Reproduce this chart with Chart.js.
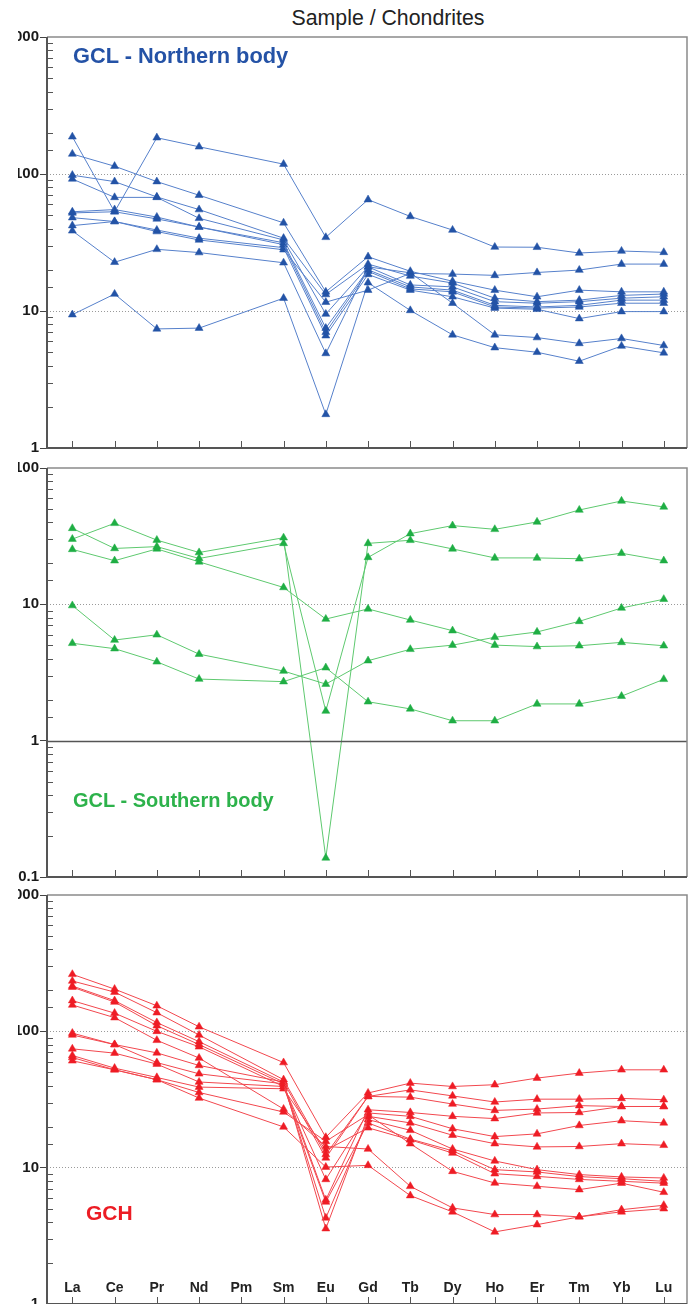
<!DOCTYPE html>
<html>
<head>
<meta charset="utf-8">
<title>Sample / Chondrites</title>
<script src="https://cdn.jsdelivr.net/npm/chart.js@4.4.1/dist/chart.umd.min.js"></script>
<style>
html, body { margin: 0; padding: 0; background: #fff; overflow: hidden; }
#page { position: relative; width: 696px; height: 1304px; font-family: 'Liberation Sans', Arial, sans-serif; }
canvas { position: absolute; left: 18px; }
.lbl { position: absolute; white-space: nowrap; line-height: 1; font-weight: bold; }
</style>
</head>
<body>
<div id="page">
  <div class="lbl" style="left:388px; top:8px; transform:translateX(-50%); font-size:21.3px; font-weight:normal; color:#222;">Sample / Chondrites</div>
  <canvas id="north" width="678" height="431" style="top:27px"></canvas>
  <canvas id="south" width="678" height="429" style="top:458px"></canvas>
  <canvas id="gch" width="678" height="429" style="top:885px"></canvas>
  <div class="lbl" style="left:73px; top:45px; font-size:21.8px; color:#2452a6;">GCL - Northern body</div>
  <div class="lbl" style="left:73px; top:790px; font-size:20px; color:#2db24b;">GCL - Southern body</div>
  <div class="lbl" style="left:86px; top:1202px; font-size:21px; color:#ec1c24;">GCH</div>
</div>
<script>
// REE order (Pm has no data)
const ELEMENTS = ['La', 'Ce', 'Pr', 'Nd', 'Pm', 'Sm', 'Eu', 'Gd', 'Tb', 'Dy', 'Ho', 'Er', 'Tm', 'Yb', 'Lu'];

// y tick labels per panel
const Y_LABELS_NORTH = ['1', '10', '100', '1000'];
const Y_LABELS_SOUTH = ['0.1', '1', '10', '100'];
const Y_LABELS_GCH = ['1', '10', '100', '1000'];

// GCL - Northern body (sample / chondrite)
const north = [
    [187, 53, 184, 158, null, 118, 34.5, 65, 49, 39, 29.3, 29.2, 26.5, 27.4, 26.8],
    [140, 114, 88, 70, null, 44, 13.8, 24.9, 19.5, 16.5, 14.2, 12.7, 14.2, 13.8, 13.8],
    [98, 88, 68, 55, null, 34, 13.2, 22, 18, 16, 12.4, 11.7, 12, 13, 13.3],
    [92, 67.5, 67.5, 47.5, null, 33, 9.5, 21, 15.5, 15, 11.7, 11.4, 11.7, 12.4, 12.7],
    [53, 55, 48.5, 41, null, 31.5, 7.5, 20, 15, 14.2, 11, 10.7, 11, 12, 12],
    [52, 53, 47, 41, null, 30.5, 7, 19.5, 14.5, 13.8, 10.7, 10.5, 10.7, 11.4, 11.4],
    [48, 45, 39, 34, null, 29, 6.6, 18.5, 14.2, 12.7, 10.5, 10.3, 8.8, 9.9, 9.9],
    [42, 45, 38, 33, null, 28, 11.6, 14.2, 18.8, 18.6, 18.2, 19.1, 19.9, 22, 22],
    [38.5, 22.7, 28.2, 26.7, null, 22.5, 4.9, 21, 19, 11.4, 6.7, 6.4, 5.8, 6.3, 5.6],
    [9.4, 13.3, 7.4, 7.5, null, 12.4, 1.76, 16.1, 10.1, 6.7, 5.4, 5.0, 4.3, 5.55, 4.95]
];

// GCL - Southern body
const south = [
    [36.1, 25.7, 26.5, 21.7, null, 28.0, 1.65, 22.1, 33, 37.8, 35.5, 40.2, 49.2, 57.3, 51.8],
    [30.1, 39.3, 29.6, 24.0, null, 30.8, 0.138, 28.0, 29.5, 25.5, 21.9, 21.9, 21.6, 23.7, 20.9],
    [25.3, 20.9, 25.5, 20.5, null, 13.3, 7.8, 9.25, 7.67, 6.41, 5.02, 4.9, 4.97, 5.26, 4.97],
    [9.8, 5.47, 5.98, 4.31, null, 3.24, 2.6, 3.86, 4.68, 5.02, 5.73, 6.27, 7.5, 9.4, 10.9],
    [5.18, 4.73, 3.79, 2.83, null, 2.71, 3.43, 1.93, 1.71, 1.4, 1.4, 1.86, 1.86, 2.12, 2.82]
];

// GCH
const gch = [
    [262, 204, 154, 108, null, 59, 16.7, 35.3, 41.7, 39.4, 40.6, 45.4, 49.4, 52.2, 52.2],
    [234, 194, 137, 94, null, 44.2, 12.5, 33.3, 37.2, 33.6, 30.3, 31.8, 31.8, 32.2, 31.5],
    [215, 168, 116, 84, null, 42.5, 11.8, 33.3, 32.9, 29.3, 26.3, 26.9, 28.5, 28.1, 28.1],
    [211, 164, 110, 80, null, 41.2, 5.8, 26.6, 25.4, 23.8, 22.9, 25.2, 25.4, 28.1, 28.1],
    [168, 136, 100, 77, null, 39.4, 8.2, 25.2, 23.8, 19.3, 16.9, 17.7, 20.4, 22.1, 21.3],
    [156, 126, 86, 63.7, null, 26.9, 14.3, 13.7, 7.3, 5.07, 4.53, 4.53, 4.36, 4.92, 5.3],
    [97, 80, 69.5, 56.2, null, 42.5, 3.57, 23.8, 21.3, 17.3, 15.0, 14.2, 14.3, 15.0, 14.6],
    [94, 80, 59, 48.8, null, 41.2, 4.28, 22.5, 18.8, 13.7, 11.2, 9.67, 8.9, 8.55, 8.4],
    [74.4, 69.2, 57.5, 42.5, null, 39.4, 5.6, 21.3, 16.2, 13.3, 9.67, 9.3, 8.6, 8.3, 7.94],
    [66.5, 53.7, 45.9, 39, null, 37.9, 13.4, 19.6, 16.0, 12.8, 9.03, 8.63, 8.2, 7.94, 7.7],
    [64.3, 52.2, 44.2, 35.6, null, 25.6, 15.6, 24.5, 15.0, 9.4, 7.72, 7.3, 6.9, 7.7, 6.6],
    [60.8, 52.2, 44.2, 32.4, null, 19.9, 10.1, 10.4, 6.24, 4.74, 3.38, 3.82, 4.36, 4.74, 5.0]
];

const FONT = "'Liberation Sans', Arial, sans-serif";
const CLEAR = 'rgba(0,0,0,0)';

function isDecade(v) {
    const l = Math.log10(v);
    return Math.abs(l - Math.round(l)) < 1e-6;
}

function labelFor(labels, v) {
    for (const s of labels) {
        if (Math.abs(Math.log10(Number(s)) - Math.log10(v)) < 1e-6) return s;
    }
    return '';
}

// box, inward x ticks, inner minor y ticks, optional solid reference line
const framePlugin = {
    id: 'frame',
    afterDraw(chart, args, opts) {
        const ctx = chart.ctx;
        const a = chart.chartArea;
        const xs = chart.scales.x;
        const ys = chart.scales.y;
        ctx.save();
        ctx.lineWidth = 1;
        ctx.strokeStyle = '#555';
        ctx.beginPath();
        ys.ticks.forEach(t => {
            if (isDecade(t.value)) return;
            const py = Math.round(ys.getPixelForValue(t.value)) + 0.5;
            ctx.moveTo(a.left, py);
            ctx.lineTo(a.left + 6, py);
        });
        xs.ticks.forEach(t => {
            const px = Math.round(xs.getPixelForValue(t.value)) + 0.5;
            ctx.moveTo(px, a.bottom);
            ctx.lineTo(px, a.bottom - 7);
        });
        ctx.stroke();

        if (opts.solidAt) {
            const py = Math.round(ys.getPixelForValue(opts.solidAt)) + 0.5;
            ctx.strokeStyle = '#555';
            ctx.lineWidth = 1.5;
            ctx.beginPath();
            ctx.moveTo(a.left, py);
            ctx.lineTo(a.right, py);
            ctx.stroke();
        }

        ctx.strokeStyle = '#8a8a8a';
        ctx.lineWidth = 1.5;
        ctx.beginPath();
        ctx.moveTo(a.left, a.top);
        ctx.lineTo(a.right, a.top);
        ctx.lineTo(a.right, a.bottom);
        ctx.stroke();

        ctx.strokeStyle = '#555';
        ctx.lineWidth = 2;
        ctx.beginPath();
        ctx.moveTo(a.left, a.top);
        ctx.lineTo(a.left, a.bottom);
        ctx.lineTo(a.right, a.bottom);
        ctx.stroke();
        ctx.restore();
    }
};

function makePanel(id, rows, yMin, yMax, yLabels, markerColor, lineColor, showNames, solidAt) {
    const datasets = rows.map(r => ({
        data: r.map((v, i) => ({ x: i, y: v })),
        borderColor: lineColor,
        borderWidth: 1,
        pointStyle: 'triangle',
        pointRadius: 4.6,
        pointBackgroundColor: markerColor,
        pointBorderColor: markerColor,
        pointBorderWidth: 0.5,
        spanGaps: true,
        tension: 0
    }));

    return new Chart(document.getElementById(id), {
        type: 'line',
        data: { datasets: datasets },
        options: {
            responsive: false,
            animation: false,
            devicePixelRatio: 1,
            events: [],
            layout: { padding: { left: 0, right: 9, top: 10, bottom: 10 } },
            plugins: {
                legend: { display: false },
                tooltip: { enabled: false },
                frame: { solidAt: solidAt }
            },
            scales: {
                x: {
                    type: 'linear',
                    min: -0.6,
                    max: 14.55,
                    border: { display: false },
                    grid: { display: false },
                    afterBuildTicks: s => { s.ticks = ELEMENTS.map((e, i) => ({ value: i })); },
                    afterFit: s => { s.height = 0; s.paddingLeft = 0; s.paddingRight = 0; },
                    ticks: {
                        display: showNames,
                        mirror: true,
                        autoSkip: false,
                        maxRotation: 0,
                        padding: 7.6,
                        color: '#222',
                        font: { family: FONT, size: 14, weight: 'bold' },
                        callback: v => ELEMENTS[v]
                    }
                },
                y: {
                    type: 'logarithmic',
                    min: yMin,
                    max: yMax,
                    border: { display: false, dash: [1, 2] },
                    grid: {
                        lineWidth: 1,
                        color: c => (c.tick && isDecade(c.tick.value) && c.tick.value > yMin * 1.01 &&
                            c.tick.value < yMax * 0.99 && c.tick.value !== solidAt) ? '#9a9a9a' : CLEAR,
                        drawTicks: true,
                        tickLength: 7,
                        tickWidth: 1,
                        tickColor: c => (c.tick && isDecade(c.tick.value)) ? '#444' : CLEAR
                    },
                    afterFit: s => { s.width = 29; s.paddingTop = 0; s.paddingBottom = 0; },
                    ticks: {
                        autoSkip: false,
                        padding: 1,
                        color: '#1a1a1a',
                        font: { family: FONT, size: 15, weight: 'bold' },
                        callback: v => labelFor(yLabels, v)
                    }
                }
            }
        },
        plugins: [framePlugin]
    });
}

makePanel('north', north, 1, 1000, Y_LABELS_NORTH, '#2353a6', '#5680cb', false, null);
makePanel('south', south, 0.1, 100, Y_LABELS_SOUTH, '#1fae44', '#5ec96f', false, 1);
makePanel('gch', gch, 1, 1000, Y_LABELS_GCH, '#ee1c25', '#f2474e', true, null);
</script>
</body>
</html>
